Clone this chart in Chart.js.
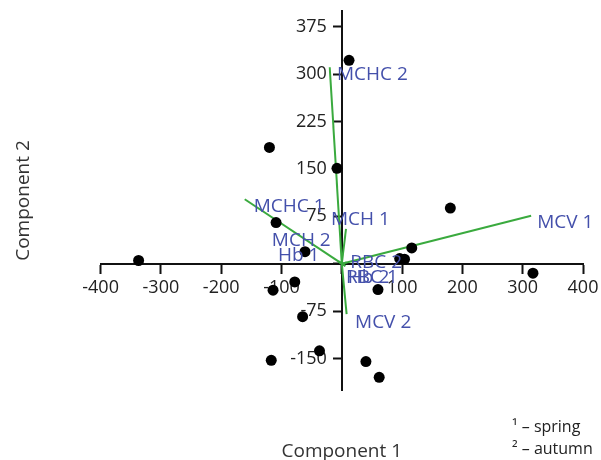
<!DOCTYPE html>
<html>
<head>
<meta charset="utf-8">
<script src="https://cdn.jsdelivr.net/npm/chart.js@4/dist/chart.umd.min.js"></script>
<style>html,body{margin:0;padding:0;background:#fff}canvas{display:block}</style>
</head>
<body>
<canvas id="c" width="601" height="460"></canvas>
<script>
// PCA scores (Component 1, Component 2)
const scoreX = [-337, 12, -120, -8, -109, -61, 180, 116, 96, 104, 317, -78, -114, 60, -65, -37, -117, 40, 62];
const scoreY = [5, 322, 184, 151, 65, 19, 88, 25, 8, 7, -15, -29, -42, -41, -84, -138, -153, -155, -180];

// Variable loadings (biplot vectors)
const varNames = ['MCV 1', 'MCHC 1', 'MCHC 2', 'MCH 1', 'MCV 2', 'MCH 2', 'Hb 1', 'RBC 2', 'RBC 1', 'Hb 2'];
const loadX = [314, -161, -20, 7, 8, -6, -5, 8, 6, 5];
const loadY = [76, 102, 311, 55, -80, 4, 3, 2, -4, -3];
// Label anchors (data units)
const labelX = [324, -146, -8, -18, 22, -116, -106, 14, 7, 10];
const labelY = [65, 90, 299, 69, -93, 36, 13, 2, -22, -22];

const xTicks = [-400, -300, -200, -100, 0, 100, 200, 300, 400];
const yTicks = [-150, -75, 0, 75, 150, 225, 300, 375];
const xTitle = 'Component 1';
const yTitle = 'Component 2';
const footnotes = ['\u00B9 \u2013 spring', '\u00B2 \u2013 autumn'];

const GREEN = '#3aaa3e';
const BLUE = '#4450ab';
const FONT = '"Open Sans", "Noto Sans", sans-serif';

Chart.defaults.font.family = FONT;

const datasets = [{
  type: 'scatter',
  label: 'scores',
  data: scoreX.map((x, i) => ({x, y: scoreY[i]})),
  pointRadius: 5.5,
  pointBackgroundColor: '#000',
  pointBorderColor: '#000',
  pointBorderWidth: 0,
  order: 0
}];
varNames.forEach((n, i) => {
  datasets.push({
    type: 'line',
    label: n,
    data: [{x: 0, y: 0}, {x: loadX[i], y: loadY[i]}],
    borderColor: GREEN,
    borderWidth: 2,
    pointRadius: 0,
    fill: false,
    order: 1
  });
});

function zeroFit(scale) {
  if (scale.isHorizontal()) scale.height = 0; else scale.width = 0;
  scale.paddingLeft = 0; scale.paddingRight = 0; scale.paddingTop = 0; scale.paddingBottom = 0;
}

// y tick labels: the library puts them flush on a centred axis, so offset them by tick length + padding
const yLabelPlugin = {
  id: 'yTickLabels',
  beforeDatasetsDraw(chart) {
    const ctx = chart.ctx, xs = chart.scales.x, ys = chart.scales.y;
    const x0 = xs.getPixelForValue(0) - 15;
    ctx.save();
    ctx.font = '18px ' + FONT;
    ctx.fillStyle = '#222';
    ctx.textAlign = 'right';
    ctx.textBaseline = 'middle';
    ys.ticks.forEach(t => {
      if (t.value === 0) return;
      ctx.fillText(String(t.value), x0, ys.getPixelForValue(t.value));
    });
    ctx.restore();
  }
};

const labelPlugin = {
  id: 'varLabels',
  afterDatasetsDraw(chart) {
    const ctx = chart.ctx, xs = chart.scales.x, ys = chart.scales.y;
    ctx.save();
    ctx.font = '19px ' + FONT;
    ctx.fillStyle = BLUE;
    ctx.textAlign = 'left';
    ctx.textBaseline = 'middle';
    varNames.forEach((n, i) => {
      ctx.fillText(n, xs.getPixelForValue(labelX[i]), ys.getPixelForValue(labelY[i]));
    });
    ctx.restore();
  }
};

const notePlugin = {
  id: 'notes',
  afterDraw(chart) {
    const ctx = chart.ctx;
    ctx.save();
    ctx.font = '16px ' + FONT;
    ctx.fillStyle = '#222';
    ctx.textAlign = 'left';
    ctx.textBaseline = 'middle';
    ctx.fillText(footnotes[0], 512, 427);
    ctx.fillText(footnotes[1], 512, 449);
    ctx.restore();
  }
};

new Chart(document.getElementById('c'), {
  data: {datasets},
  options: {
    responsive: false,
    animation: false,
    devicePixelRatio: 1,
    events: [],
    layout: {padding: {left: 0, right: 18, top: 11, bottom: 0}},
    plugins: {
      legend: {display: false},
      tooltip: {enabled: false},
      title: {
        display: true, text: xTitle, position: 'bottom', fullSize: false,
        color: '#333', font: {size: 19, weight: 'normal'},
        padding: {top: 50.6, bottom: -3.4}
      },
      subtitle: {
        display: true, text: yTitle, position: 'left', fullSize: false,
        color: '#333', font: {size: 19, weight: 'normal'},
        padding: {top: 12.6, bottom: 65.2}
      }
    },
    scales: {
      x: {
        type: 'linear', position: {y: 0}, min: -400, max: 400,
        afterBuildTicks: s => { s.ticks = xTicks.map(v => ({value: v})); },
        afterFit: zeroFit,
        border: {display: true, color: '#111', width: 2},
        grid: {display: true, drawOnChartArea: false, drawTicks: true, tickLength: 9, tickWidth: 2, tickColor: '#111'},
        ticks: {color: '#222', font: {size: 18}, padding: 4, maxRotation: 0, autoSkip: false,
          callback: v => v === 0 ? '' : String(v)}
      },
      y: {
        type: 'linear', position: {x: 0}, min: -200, max: 400,
        afterBuildTicks: s => { s.ticks = yTicks.map(v => ({value: v})); },
        afterFit: zeroFit,
        border: {display: true, color: '#111', width: 2},
        grid: {display: true, drawOnChartArea: false, drawTicks: true, tickLength: 8, tickWidth: 2, tickColor: '#111'},
        ticks: {display: false}
      }
    }
  },
  plugins: [yLabelPlugin, labelPlugin, notePlugin]
});
</script>
</body>
</html>
